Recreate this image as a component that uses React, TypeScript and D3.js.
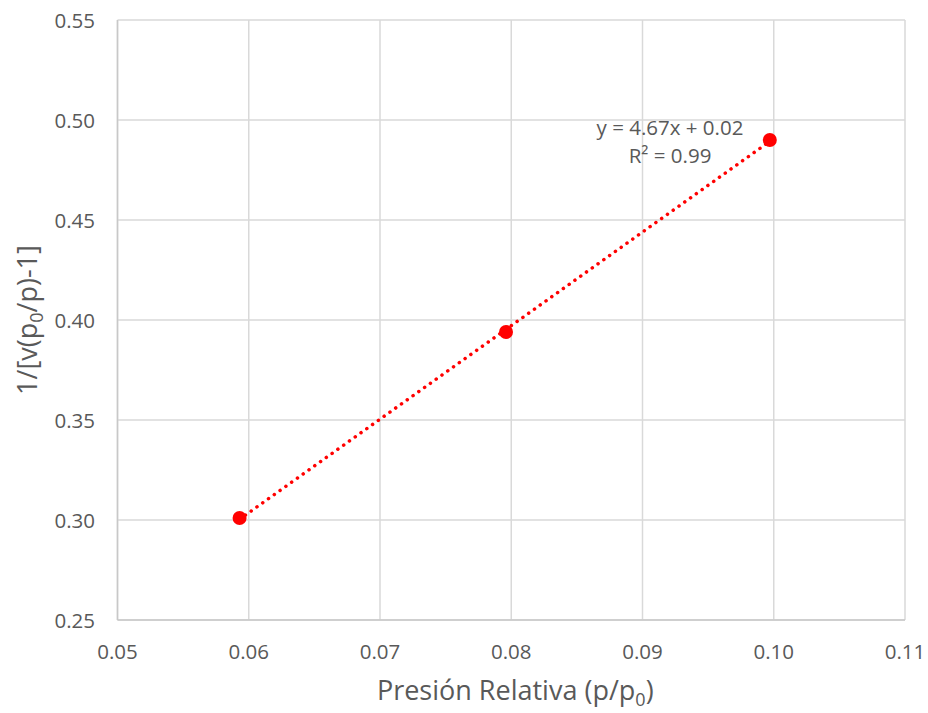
import React from "react";
import * as d3 from "d3";

// Relative pressure vs. BET transform
const pressure = [0.0593, 0.0796, 0.0997];
const betValue = [0.301, 0.394, 0.49];
const xTicks = [0.05, 0.06, 0.07, 0.08, 0.09, 0.1, 0.11];
const yTicks = [0.25, 0.3, 0.35, 0.4, 0.45, 0.5, 0.55];
const equationText = "y = 4.67x + 0.02";
const r2Value = "0.99";

const W = 928;
const H = 713;
const margin = { left: 117.5, top: 20, right: 23, bottom: 93 };

export default function App() {
  const x = d3.scaleLinear().domain([0.05, 0.11]).range([margin.left, W - margin.right]);
  const y = d3.scaleLinear().domain([0.25, 0.55]).range([H - margin.bottom, margin.top]);

  // least-squares fit for the trendline
  const mx = d3.mean(pressure)!;
  const my = d3.mean(betValue)!;
  const slope =
    d3.sum(pressure.map((p, i) => (p - mx) * (betValue[i] - my))) /
    d3.sum(pressure.map((p) => (p - mx) ** 2));
  const intercept = my - slope * mx;
  const x0 = d3.min(pressure)!;
  const x1 = d3.max(pressure)!;
  const trend = d3.line<number>().x((v) => x(v)).y((v) => y(slope * v + intercept));

  const font = "'Open Sans', sans-serif";
  const textColor = "#595959";
  const grid = "#d9d9d9";

  return (
    <svg width={W} height={H} style={{ position: "absolute", left: 0, top: 0, background: "#fff" }} fontFamily={font}>
      {xTicks.map((t) => (
        <line key={"gx" + t} x1={x(t)} x2={x(t)} y1={y(0.25)} y2={y(0.55)} stroke={grid} strokeWidth={1.5} />
      ))}
      {yTicks.map((t) => (
        <line key={"gy" + t} x1={x(0.05)} x2={x(0.11)} y1={y(t)} y2={y(t)} stroke={grid} strokeWidth={1.5} />
      ))}
      <line x1={x(0.05)} x2={x(0.05)} y1={y(0.25)} y2={y(0.55)} stroke="#c8c8c8" strokeWidth={1.5} />
      <line x1={x(0.05)} x2={x(0.11)} y1={y(0.25)} y2={y(0.25)} stroke="#c8c8c8" strokeWidth={1.5} />

      {xTicks.map((t) => (
        <text key={"tx" + t} x={x(t)} y={y(0.25) + 39} textAnchor="middle" fontSize={20.5} fill={textColor}>
          {d3.format(".2f")(t)}
        </text>
      ))}
      {yTicks.map((t) => (
        <text key={"ty" + t} x={95} y={y(t) + 7.5} textAnchor="end" fontSize={20.5} fill={textColor}>
          {d3.format(".2f")(t)}
        </text>
      ))}

      <text x={(x(0.05) + x(0.11)) / 2 + 4} y={700} textAnchor="middle" fontSize={27} fill={textColor}>
        Presión Relativa (p/p<tspan fontSize={18} dy={6}>0</tspan>
        <tspan dy={-6}>)</tspan>
      </text>
      <text
        transform={`translate(37, ${(y(0.25) + y(0.55)) / 2}) rotate(-90)`}
        textAnchor="middle"
        fontSize={27}
        fill={textColor}
      >
        1/[v(p<tspan fontSize={18} dy={6}>0</tspan>
        <tspan dy={-6}>/p)-1]</tspan>
      </text>

      <path
        d={trend([x0, x1]) ?? ""}
        fill="none"
        stroke="#ff0000"
        strokeWidth={3.5}
        strokeLinecap="round"
        strokeDasharray="0.1 7"
      />
      {pressure.map((p, i) => (
        <circle key={"pt" + i} cx={x(p)} cy={y(betValue[i])} r={7} fill="#ff0000" />
      ))}

      <text x={670} y={135} textAnchor="middle" fontSize={20.5} fill={textColor}>
        {equationText}
      </text>
      <text x={670} y={163} textAnchor="middle" fontSize={20.5} fill={textColor}>
        R² = {r2Value}
      </text>
    </svg>
  );
}
